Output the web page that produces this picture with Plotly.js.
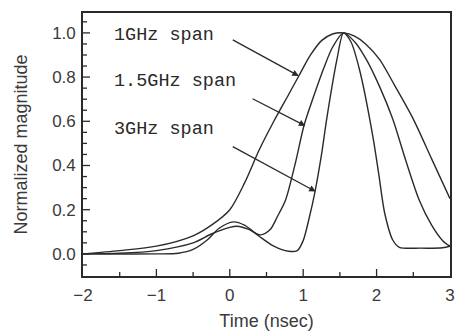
<!DOCTYPE html>
<html><head><meta charset="utf-8">
<script src="https://cdn.plot.ly/plotly-3.0.1.min.js"></script>
<style>html,body{margin:0;padding:0;background:#fff;}#c{width:456px;height:331px;}</style>
</head><body><div id="c"></div>
<script>
const x1GHz = [-2, -1.5, -1, -0.5, -0.25, 0, 0.2, 0.4, 0.6, 0.8, 0.94, 1.1, 1.25, 1.4, 1.55, 1.7, 1.85, 2.04, 2.25, 2.5, 2.75, 3.0];
const y1GHz = [0, 0.015, 0.035, 0.082, 0.13, 0.2, 0.32, 0.47, 0.6, 0.72, 0.805, 0.9, 0.965, 0.995, 1.0, 0.985, 0.95, 0.88, 0.76, 0.61, 0.43, 0.25];

const x15GHz = [-2, -1.5, -1, -0.5, -0.25, 0, 0.1, 0.25, 0.42, 0.55, 0.65, 0.76, 0.9, 1.01, 1.15, 1.28, 1.4, 1.55, 1.7, 1.86, 2.05, 2.22, 2.4, 2.58, 2.75, 2.9, 3.0];
const y15GHz = [0, 0.003, 0.015, 0.05, 0.09, 0.12, 0.125, 0.112, 0.086, 0.11, 0.17, 0.244, 0.42, 0.58, 0.72, 0.84, 0.935, 1.0, 0.96, 0.88, 0.75, 0.61, 0.42, 0.244, 0.13, 0.06, 0.035];

const x3GHz = [-2, -1, -0.7, -0.5, -0.3, -0.15, 0.05, 0.2, 0.4, 0.6, 0.8, 0.92, 1.0, 1.08, 1.16, 1.25, 1.32, 1.46, 1.55, 1.65, 1.77, 1.95, 2.03, 2.11, 2.22, 2.31, 2.6, 2.9, 3.0];
const y3GHz = [0, 0, 0.003, 0.02, 0.065, 0.115, 0.145, 0.13, 0.08, 0.035, 0.012, 0.015, 0.06, 0.16, 0.28, 0.45, 0.61, 0.88, 1.0, 0.96, 0.83, 0.53, 0.36, 0.185, 0.063, 0.03, 0.026, 0.028, 0.035];

const labels = ["1GHz span", "1.5GHz span", "3GHz span"];
const xTicks = [-2, -1, 0, 1, 2, 3];
const yTicks = [0.0, 0.2, 0.4, 0.6, 0.8, 1.0];
const xMinorStep = 0.5;
const yMinorStep = 0.05;

const ink = '#2a2a2a';
const xRange = [-2, 3.0002];
const yRange = [-0.1, 1.09];
const W = 456, H = 331, M = {l: 83, r: 6, t: 13, b: 55};
const plotW = W - M.l - M.r, plotH = H - M.t - M.b;
const pxX = (xRange[1] - xRange[0]) / plotW;   // data units per pixel, x
const pxY = (yRange[1] - yRange[0]) / plotH;   // data units per pixel, y

// inside tick marks as a line trace, derived from the tick arrays
function tickTrace(major, minorStep, len) {
  const tx = [], ty = [];
  return {tx, ty};
}
const tickX = [], tickY = [];
function addXTick(v, lenPx) { tickX.push(v, v, null); tickY.push(yRange[0], yRange[0] + lenPx * pxY, null); }
function addYTick(v, lenPx) { tickX.push(xRange[0], xRange[0] + lenPx * pxX, null); tickY.push(v, v, null); }
xTicks.forEach(v => { if (v > xRange[0] && v < 3) addXTick(v, 7); });
for (let k = 0; ; k++) {
  const v = xTicks[0] + (2 * k + 1) * xMinorStep;
  if (v >= 3) break;
  addXTick(v, 4);
}
yTicks.forEach(v => addYTick(v, 7));
for (let k = -2; ; k++) {
  const v = Math.round(k * yMinorStep * 1000) / 1000;
  if (v > yRange[1]) break;
  if (v <= yRange[0]) continue;
  if (yTicks.some(t => Math.abs(t - v) < 1e-6)) continue;
  addYTick(v, 4);
}

const lineStyle = {color: ink, width: 1.4, shape: 'spline', smoothing: 0.8};
const traces = [
  {x: tickX, y: tickY, mode: 'lines', line: {color: ink, width: 1.3}, hoverinfo: 'skip', connectgaps: false},
  {x: x1GHz, y: y1GHz, mode: 'lines', line: lineStyle, name: labels[0]},
  {x: x15GHz, y: y15GHz, mode: 'lines', line: lineStyle, name: labels[1]},
  {x: x3GHz, y: y3GHz, mode: 'lines', line: lineStyle, name: labels[2]}
];

const txtFont = {family: 'Liberation Mono, Courier New, monospace', size: 18.5, color: ink};
const annotations = [
  {x: -1.61, y: 0.986, text: labels[0], showarrow: false, xanchor: 'left', yanchor: 'middle', font: txtFont},
  {x: -1.61, y: 0.778, text: labels[1], showarrow: false, xanchor: 'left', yanchor: 'middle', font: txtFont},
  {x: -1.61, y: 0.561, text: labels[2], showarrow: false, xanchor: 'left', yanchor: 'middle', font: txtFont},
  {x: 0.94, y: 0.805, ax: 0.0, ay: 0.976, axref: 'x', ayref: 'y', text: ' ', showarrow: true, arrowhead: 2, arrowsize: 1, arrowwidth: 1.3, arrowcolor: ink},
  {x: 1.03, y: 0.579, ax: 0.27, ay: 0.709, axref: 'x', ayref: 'y', text: ' ', showarrow: true, arrowhead: 2, arrowsize: 1, arrowwidth: 1.3, arrowcolor: ink},
  {x: 1.17, y: 0.282, ax: 0.0, ay: 0.493, axref: 'x', ayref: 'y', text: ' ', showarrow: true, arrowhead: 2, arrowsize: 1, arrowwidth: 1.3, arrowcolor: ink}
];

const axFont = {family: 'Liberation Sans, Arial, sans-serif', size: 17, color: '#3a3a3a'};
const layout = {
  width: W, height: H,
  margin: M,
  paper_bgcolor: '#fff', plot_bgcolor: '#fff',
  showlegend: false,
  xaxis: {
    range: xRange, tickmode: 'array', tickvals: xTicks, ticktext: xTicks.map(v => v < 0 ? '\u2212' + Math.abs(v) : String(v)),
    ticks: '', showline: true, linecolor: ink, linewidth: 1.6, mirror: true,
    showgrid: false, zeroline: false, ticklabeloverflow: 'allow',
    tickfont: axFont, ticklabelstandoff: 3,
    title: {text: 'Time (nsec)', font: {family: 'Liberation Sans, Arial, sans-serif', size: 18, color: '#3a3a3a'}, standoff: 13}
  },
  yaxis: {
    range: yRange, tickmode: 'array', tickvals: yTicks, ticktext: yTicks.map(v => v.toFixed(1)),
    ticks: '', showline: true, linecolor: ink, linewidth: 1.6, mirror: true,
    showgrid: false, zeroline: false,
    tickfont: axFont, ticklabelstandoff: 2,
    title: {text: 'Normalized magnitude', font: {family: 'Liberation Sans, Arial, sans-serif', size: 18, color: '#3a3a3a'}, standoff: 20}
  },
  annotations: annotations
};

Plotly.newPlot('c', traces, layout, {displayModeBar: false});
</script>
</body></html>
